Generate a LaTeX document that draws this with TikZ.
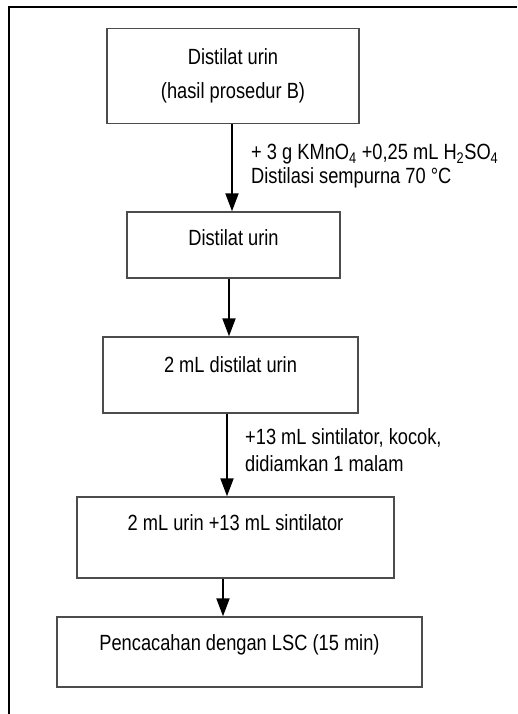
\documentclass[tikz,border=0pt]{standalone}
\usepackage{fontspec}
\setmainfont[FakeStretch=0.83]{Liberation Sans}
\usetikzlibrary{arrows.meta}

\begin{document}
\begin{tikzpicture}[x=1pt, y=-1pt]
% Flowchart for tritium counting in urine
\providecommand{\flowBoxColor}{black!70}
\providecommand{\flowBoxLineWidth}{1.4pt}
\providecommand{\flowArrowLineWidth}{2pt}
\providecommand{\flowFrameLineWidth}{2pt}
\tikzset{
  stepbox/.style={draw=\flowBoxColor, line width=\flowBoxLineWidth, inner sep=0pt,
    align=center, font=\fontsize{22}{25}\selectfont},
  steplabel/.style={inner sep=0pt, anchor=west, align=left, font=\fontsize{22}{24}\selectfont},
  flowarrow/.style={line width=\flowArrowLineWidth, -{Triangle[length=18pt,width=13pt]}}
}
\useasboundingbox (0,0) rectangle (517,714);
% Outer frame (only top and left edges are visible)
\draw[line width=\flowFrameLineWidth] (9,714) -- (9,7) -- (517,7);
% Boxes
\node[stepbox, minimum width=252pt, minimum height=95pt] (urine) at (233,76)
  {Distilat urin\\[9pt](hasil prosedur B)};
\node[stepbox, minimum width=213pt, text height=33pt, text depth=33pt, anchor=base]
  (distilate) at (233.5,245) {Distilat urin};
\node[stepbox, minimum width=255pt, text height=35pt, text depth=41pt, anchor=base]
  (sample) at (230.5,372) {2 mL distilat urin};
\node[stepbox, minimum width=317pt, text height=33pt, text depth=48pt, anchor=base]
  (mixture) at (235.5,530) {2 mL urin +13 mL sintilator};
\node[stepbox, minimum width=365pt, text height=33pt, text depth=37pt, anchor=base]
  (counting) at (239.5,650) {Pencacahan dengan LSC (15 min)};
% Arrows between steps
\draw[flowarrow] ([xshift=-1pt]urine.south) -- ([xshift=-1pt]urine.south |- distilate.north);
\draw[flowarrow] ([xshift=-4.5pt]distilate.south) -- ([xshift=-4.5pt]distilate.south |- sample.north);
\draw[flowarrow] ([xshift=-3.5pt]sample.south) -- ([xshift=-3.5pt]sample.south |- mixture.north);
\draw[flowarrow] ([xshift=-12.5pt]mixture.south) -- ([xshift=-12.5pt]mixture.south |- counting.north);
% Labels beside arrows
\node[steplabel] (oxidation) at (251,166.5)
  {+ 3 g KMnO\textsubscript{4} +0,25 mL H\textsubscript{2}SO\textsubscript{4}\\Distilasi sempurna 70 °C};
\node[steplabel] (scintillator) at (245,450.5)
  {+13 mL sintilator, kocok,\\[3pt]didiamkan 1 malam};
\end{tikzpicture}
\end{document}
